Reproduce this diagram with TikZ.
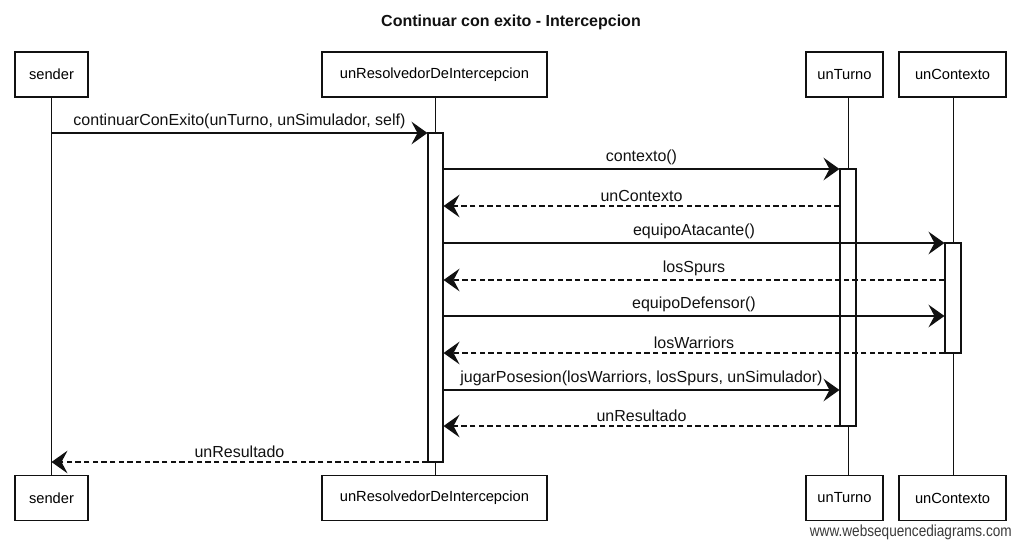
\documentclass[tikz,border=0pt]{standalone}
\usepackage{fontspec}
\setmainfont{Liberation Sans}
\newfontfamily\footfont[FakeStretch=0.85]{Liberation Sans}
\usepackage{xcolor}
\usetikzlibrary{positioning, arrows.meta, fit, calc}
\definecolor{InkA}{HTML}{111111}
\definecolor{GrayA}{HTML}{3A3A3A}
\tikzset{
  actor/.style={draw=InkA, fill=white, line width=0.8pt, align=center,
                font=\fontsize{11}{13}\selectfont, minimum height=33.75pt,
                inner sep=0pt},
  act/.style={draw=InkA, fill=white, line width=0.8pt, inner sep=0pt},
  life/.style={draw=InkA, line width=0.7pt},
  call/.style={-{Stealth[length=12pt, width=17pt, inset=4.5pt]}, line width=1pt,
               draw=InkA},
  ret/.style={call, dash pattern=on 4pt off 2.5pt},
  lbl/.style={font=\fontsize{12}{14}\selectfont, text=InkA, above=1.5pt,
              inner sep=1pt},
  ttl/.style={font=\bfseries\fontsize{12}{14}\selectfont, text=InkA},
  foot/.style={font=\footfont\fontsize{12}{14}\selectfont, text=GrayA,
               inner sep=0pt},
}
\begin{document}
\begin{tikzpicture}[x=0.75pt,y=-0.75pt]
  \useasboundingbox (0,0) rectangle (1021,546);
  \node[ttl] (title) at (511,22) {Continuar con exito - Intercepcion};

  % participants
  \node[actor, minimum width=54.75pt] (sndT) at (51.5,74.5) {sender};
  \node[actor, minimum width=168.75pt] (resT) at (434.5,74.5) {unResolvedorDeIntercepcion};
  \node[actor, minimum width=57.75pt] (turT) at (844.5,74.5) {unTurno};
  \node[actor, minimum width=80.25pt] (ctxT) at (952.5,74.5) {unContexto};
  \node[actor, minimum width=54.75pt] (sndB) at (51.5,498) {sender};
  \node[actor, minimum width=168.75pt] (resB) at (434.5,498) {unResolvedorDeIntercepcion};
  \node[actor, minimum width=57.75pt] (turB) at (844.5,498) {unTurno};
  \node[actor, minimum width=80.25pt] (ctxB) at (952.5,498) {unContexto};

  % activations
  \node[act, fit={(428,133) (443,462)}] (resAct) {};
  \node[act, fit={(840,169) (856,426)}] (turAct) {};
  \node[act, fit={(945,243) (961,353)}] (ctxAct) {};

  % lifelines
  \draw[life] (sndT.south) -- (sndB.north);
  \draw[life] (resAct |- resT.south) -- (resAct.north);
  \draw[life] (resAct.south) -- (resAct |- resB.north);
  \draw[life] (turAct |- turT.south) -- (turAct.north);
  \draw[life] (turAct.south) -- (turAct |- turB.north);
  \draw[life] (ctxAct |- ctxT.south) -- (ctxAct.north);
  \draw[life] (ctxAct.south) -- (ctxAct |- ctxB.north);

  % message rows
  \coordinate (m1) at (0,133);
  \coordinate (m2) at (0,169);
  \coordinate (m3) at (0,206);
  \coordinate (m4) at (0,243);
  \coordinate (m5) at (0,280);
  \coordinate (m6) at (0,316);
  \coordinate (m7) at (0,353);
  \coordinate (m8) at (0,390);
  \coordinate (m9) at (0,426);
  \coordinate (m10) at (0,462);

  \draw[call] (sndT.south |- m1) -- (resAct.west |- m1)
        node[lbl, midway] {continuarConExito(unTurno, unSimulador, self)};
  \draw[call] (resAct.east |- m2) -- (turAct.west |- m2)
        node[lbl, midway] {contexto()};
  \draw[ret] (turAct.west |- m3) -- (resAct.east |- m3)
        node[lbl, midway] {unContexto};
  \draw[call] (resAct.east |- m4) -- (ctxAct.west |- m4)
        node[lbl, midway] {equipoAtacante()};
  \draw[ret] (ctxAct.west |- m5) -- (resAct.east |- m5)
        node[lbl, midway] {losSpurs};
  \draw[call] (resAct.east |- m6) -- (ctxAct.west |- m6)
        node[lbl, midway] {equipoDefensor()};
  \draw[ret] (ctxAct.west |- m7) -- (resAct.east |- m7)
        node[lbl, midway] {losWarriors};
  \draw[call] (resAct.east |- m8) -- (turAct.west |- m8)
        node[lbl, midway] {jugarPosesion(losWarriors, losSpurs, unSimulador)};
  \draw[ret] (turAct.west |- m9) -- (resAct.east |- m9)
        node[lbl, midway] {unResultado};
  \draw[ret] (resAct.west |- m10) -- (sndT.south |- m10)
        node[lbl, midway] {unResultado};

  \node[foot, anchor=east] (wsd) at (1012,532) {www.websequencediagrams.com};
\end{tikzpicture}
\end{document}
